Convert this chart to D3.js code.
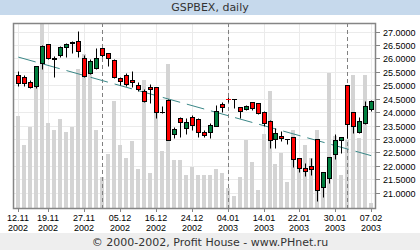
<!DOCTYPE html>
<html>
<head>
<meta charset="utf-8">
<script src="https://cdn.jsdelivr.net/npm/d3@7"></script>
<style>
body { margin: 0; background: #fff; }
svg { display: block; }
</style>
</head>
<body>
<div id="chart"></div>
<script>
// trading days shown on the chart
const dates = [
  "12.11.2002","13.11.2002","14.11.2002","15.11.2002","18.11.2002","19.11.2002","20.11.2002","21.11.2002",
  "22.11.2002","25.11.2002","26.11.2002","27.11.2002","28.11.2002","29.11.2002","02.12.2002","03.12.2002",
  "04.12.2002","05.12.2002","06.12.2002","09.12.2002","10.12.2002","11.12.2002","13.12.2002","16.12.2002",
  "17.12.2002","18.12.2002","19.12.2002","20.12.2002","23.12.2002","24.12.2002","25.12.2002","26.12.2002",
  "27.12.2002","30.12.2002","31.12.2002","04.01.2003","06.01.2003","08.01.2003","09.01.2003","10.01.2003",
  "13.01.2003","14.01.2003","15.01.2003","16.01.2003","17.01.2003","20.01.2003","21.01.2003","22.01.2003",
  "23.01.2003","24.01.2003","27.01.2003","28.01.2003","29.01.2003","30.01.2003","31.01.2003","03.02.2003",
  "04.02.2003","05.02.2003","06.02.2003","07.02.2003"
];
const open = [
  25.39,25.30,25.11,24.99,25.82,26.53,26.00,26.12,26.44,26.57,26.65,26.03,25.45,25.64,26.38,26.19,
  25.95,25.26,25.39,25.20,25.01,24.79,24.95,24.93,24.02,24.45,23.19,23.77,23.40,23.83,23.73,23.25,
  23.27,23.49,24.30,24.49,24.48,24.18,24.11,24.37,24.33,24.00,23.68,22.99,23.11,22.99,23.06,22.28,
  21.93,22.00,22.99,21.20,21.54,22.43,22.96,25.01,24.00,23.25,23.58,24.11
];
const high = [
  25.54,25.39,25.20,25.72,26.49,26.54,26.09,26.47,26.57,26.66,27.03,26.13,25.97,26.38,26.40,26.22,
  25.97,25.32,25.45,25.55,25.14,24.86,25.04,24.95,24.23,24.48,23.46,23.83,23.77,23.90,23.77,23.34,
  23.59,24.27,24.39,24.58,24.48,24.18,24.27,24.39,24.35,24.06,23.71,23.40,23.30,22.99,23.09,22.30,
  22.12,22.28,22.99,21.78,22.32,23.19,23.09,25.01,24.02,23.81,24.43,24.45
];
const low = [
  24.99,24.99,24.89,24.89,25.60,25.99,25.30,26.07,26.07,26.22,26.07,25.32,25.41,25.62,26.07,25.72,
  25.26,25.01,24.98,24.95,24.79,24.37,24.33,23.77,23.96,22.96,23.03,23.09,23.19,23.34,23.06,23.09,
  23.03,23.47,24.02,24.39,24.14,23.79,24.08,24.08,23.93,23.50,22.65,22.65,22.91,22.81,21.97,21.78,
  21.62,21.66,20.69,20.85,21.37,22.24,22.49,23.03,23.21,23.21,23.56,24.06
];
const close = [
  25.08,25.08,24.93,25.70,26.47,26.01,25.99,26.42,26.54,26.63,26.29,25.36,25.92,26.03,26.11,26.01,
  25.32,25.17,25.04,25.11,24.86,24.42,24.85,24.00,24.02,22.96,23.37,23.65,23.65,23.52,23.27,23.15,
  23.52,24.06,24.20,24.48,24.48,24.06,24.23,24.14,23.96,23.59,22.96,23.21,23.02,22.99,22.24,21.91,
  21.81,21.87,21.10,21.78,22.32,22.96,23.06,23.55,23.50,23.68,24.24,24.42
];
// volume, relative units (no scale shown on the chart)
const volume = [
  50,34,44,69,105,46,42,48,41,44,75,83,74,42,17,29,
  58,34,27,36,21,69,19,61,31,78,26,26,18,22,18,18,
  18,21,19,11,6.5,17,37,25,10,40,63,24,30,14,42,26,
  34,27,42,19,73,39,18,37,72,38,72,2.5
];
const tickDates = ["12.11.2002","19.11.2002","27.11.2002","05.12.2002","16.12.2002","24.12.2002",
                   "04.01.2003","14.01.2003","22.01.2003","30.01.2003","07.02.2003"];
const yTicks = [21,21.5,22,22.5,23,23.5,24,24.5,25,25.5,26,26.5,27];
const trendDates = ["12.11.2002","07.02.2003"];
const trendValues = [26.05, 22.38];

const width = 420, height = 250;
const plot = {left: 13, right: 375, top: 23, bottom: 208};

let svg = d3.select("#chart")
    .append("svg")
    .attr("width", width)
    .attr("height", height)
    .style("font-family", "'DejaVu Sans', Verdana, sans-serif");

let x = d3.scalePoint()
    .domain(dates)
    .range([18.3, 371.2]);

let y = d3.scaleLinear()
    .domain([20.43, 27.32])
    .range([plot.bottom, plot.top]);

let yVol = d3.scaleLinear()
    .domain([0, 100])
    .range([plot.bottom, plot.top]);

const cx = d => Math.round(x(d));
const py = v => Math.round(y(v)) + 0.5;

// title band and footer band
svg.append("rect").attr("x", 0).attr("y", 0).attr("width", width).attr("height", 15).attr("fill", "#c6d9ec");
svg.append("text")
    .attr("x", width / 2).attr("y", 11)
    .attr("text-anchor", "middle")
    .style("font-size", "11px")
    .attr("fill", "#333")
    .text("GSPBEX, daily");

svg.append("rect").attr("x", 0).attr("y", 233).attr("width", width).attr("height", 17).attr("fill", "#eeeeee");
svg.append("text")
    .attr("x", width / 2).attr("y", 246)
    .attr("text-anchor", "middle")
    .style("font-size", "11px")
    .attr("fill", "#333")
    .text("© 2000-2002, Profit House - www.PHnet.ru");

svg.append("clipPath").attr("id", "clip")
    .append("rect")
    .attr("x", plot.left).attr("y", plot.top)
    .attr("width", plot.right - plot.left).attr("height", plot.bottom - plot.top);

let body = svg.append("g").attr("clip-path", "url(#clip)");

// grid
body.selectAll(".hgrid").data(yTicks).enter()
    .append("line")
    .attr("x1", plot.left).attr("x2", plot.right)
    .attr("y1", d => py(d)).attr("y2", d => py(d))
    .attr("stroke", "#ebebeb");

body.selectAll(".vgrid").data(tickDates).enter()
    .append("line")
    .attr("x1", d => cx(d) + 0.5).attr("x2", d => cx(d) + 0.5)
    .attr("y1", plot.top).attr("y2", plot.bottom)
    .attr("stroke", "#ebebeb");

// volume bars
body.selectAll(".vol").data(dates).enter()
    .append("rect")
    .attr("x", d => cx(d) - 2)
    .attr("width", 4)
    .attr("y", (d, i) => Math.round(yVol(volume[i])))
    .attr("height", (d, i) => plot.bottom - Math.round(yVol(volume[i])))
    .attr("fill", "#d4d4d4");

// month separators: first trading day of each month
let monthStarts = dates.filter((d, i) => i > 0 && d.slice(3, 5) !== dates[i - 1].slice(3, 5));
body.selectAll(".month").data(monthStarts).enter()
    .append("line")
    .attr("x1", d => cx(d) + 0.5).attr("x2", d => cx(d) + 0.5)
    .attr("y1", plot.top).attr("y2", plot.bottom)
    .attr("stroke", "#808080")
    .attr("stroke-dasharray", "4,3");

// trend line
body.append("line")
    .attr("x1", x(trendDates[0])).attr("y1", y(trendValues[0]))
    .attr("x2", x(trendDates[1])).attr("y2", y(trendValues[1]))
    .attr("stroke", "#3a8787")
    .attr("stroke-width", 1)
    .attr("stroke-dasharray", "18,7");

// candles
let candles = body.selectAll(".candle").data(dates).enter().append("g");

candles.append("line")
    .attr("x1", d => cx(d) + 0.5).attr("x2", d => cx(d) + 0.5)
    .attr("y1", (d, i) => py(high[i])).attr("y2", (d, i) => py(low[i]))
    .attr("stroke", "#000");

candles.each(function(d, i) {
    let g = d3.select(this);
    let top = py(Math.max(open[i], close[i]));
    let bot = py(Math.min(open[i], close[i]));
    if (bot - top < 1) {
        let col = open[i] > close[i] ? "#ff0000" : (open[i] < close[i] ? "#007f3f" : "#000");
        g.append("line")
            .attr("x1", cx(d) - 2).attr("x2", cx(d) + 3)
            .attr("y1", top).attr("y2", top)
            .attr("stroke", col);
    } else {
        g.append("rect")
            .attr("x", cx(d) - 1.5)
            .attr("y", top)
            .attr("width", 4)
            .attr("height", bot - top)
            .attr("fill", open[i] > close[i] ? "#ff0000" : "#007f3f")
            .attr("stroke", "#000");
    }
});

// frame
svg.append("rect")
    .attr("x", plot.left + 0.5).attr("y", plot.top + 0.5)
    .attr("width", plot.right - plot.left).attr("height", plot.bottom - plot.top)
    .attr("fill", "none")
    .attr("stroke", "#858585")
    .attr("stroke-width", 1.5);

// y axis on the right
let yAxis = svg.append("g");
yAxis.selectAll("line").data(yTicks).enter()
    .append("line")
    .attr("x1", plot.right + 1).attr("x2", plot.right + 5)
    .attr("y1", d => py(d)).attr("y2", d => py(d))
    .attr("stroke", "#858585");
yAxis.selectAll("text").data(yTicks).enter()
    .append("text")
    .attr("x", 383)
    .attr("y", d => py(d) + 3.5)
    .style("font-family", "'Liberation Sans', Arial, sans-serif")
    .style("font-size", "9px")
    .attr("fill", "#000")
    .text(d => d.toFixed(4));

// x axis labels
let xAxis = svg.append("g");
xAxis.selectAll("line").data(tickDates).enter()
    .append("line")
    .attr("x1", d => cx(d) + 0.5).attr("x2", d => cx(d) + 0.5)
    .attr("y1", plot.bottom + 1).attr("y2", plot.bottom + 4)
    .attr("stroke", "#858585");
let xl = xAxis.selectAll("text").data(tickDates).enter()
    .append("text")
    .attr("text-anchor", "middle")
    .style("font-family", "'Liberation Sans', Arial, sans-serif")
    .style("font-size", "9px")
    .attr("fill", "#000");
xl.append("tspan").attr("x", d => cx(d)).attr("y", 221).text(d => d.slice(0, 5));
xl.append("tspan").attr("x", d => cx(d)).attr("y", 230.5).text(d => d.slice(6));
</script>
</body>
</html>
